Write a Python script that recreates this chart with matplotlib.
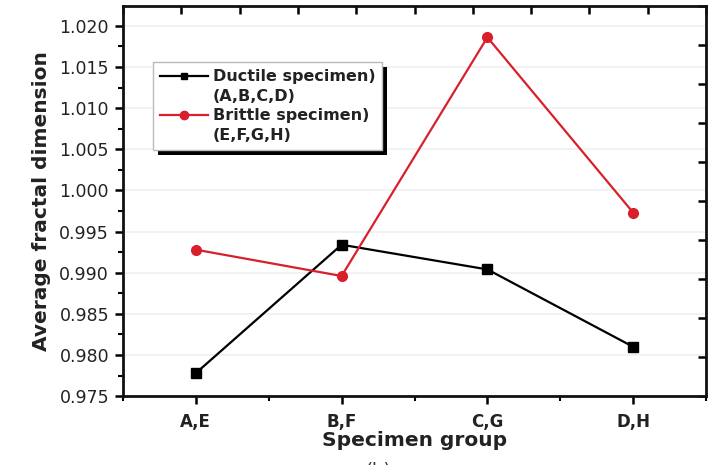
import matplotlib
matplotlib.use("Agg")
import matplotlib.pyplot as plt
from matplotlib.lines import Line2D
from matplotlib.patches import Rectangle
from matplotlib.ticker import MultipleLocator, FixedLocator, NullFormatter, FormatStrFormatter

# Data
groups = ["A,E", "B,F", "C,G", "D,H"]
ductile = [0.9778, 0.9934, 0.9904, 0.9810]
brittle = [0.9928, 0.9896, 1.0186, 0.9973]
ductile_label = ["Ductile specimen)", "(A,B,C,D)"]
brittle_label = ["Brittle specimen)", "(E,F,G,H)"]

plt.rcParams["font.family"] = ["DejaVu Sans"]

fig = plt.figure(figsize=(7.19, 4.65), dpi=100)
ax = fig.add_axes([0.171, 0.148, 0.811, 0.839])

x = list(range(1, len(groups) + 1))
red = "#d8202c"
ax.plot(x, ductile, color="black", lw=1.6, marker="s", ms=6.5, zorder=3)
ax.plot(x, brittle, color=red, lw=1.6, marker="o", ms=7, zorder=3)

ax.set_xlim(0.5, 4.5)
ax.set_ylim(0.975, 1.0224)
ax.set_xticks(x)
ax.set_xticklabels(groups, fontsize=12, fontweight="bold", color="#222222")
ax.xaxis.set_minor_locator(MultipleLocator(0.5))
ax.yaxis.set_major_locator(MultipleLocator(0.005))
ax.yaxis.set_minor_locator(MultipleLocator(0.0025))
ax.yaxis.set_major_formatter(FormatStrFormatter("%.3f"))
for lab in ax.get_yticklabels():
    lab.set_fontsize(12.5)
    lab.set_color("#222222")

ax.tick_params(axis="both", which="major", direction="out", length=6, width=1.8, pad=4)
ax.tick_params(axis="both", which="minor", direction="out", length=3.5, width=1.5)
ax.tick_params(axis="x", pad=6)
for s in ax.spines.values():
    s.set_linewidth(2.0)
    s.set_color("#111111")

ax.grid(axis="y", which="major", color="#f0f0f0", lw=1.2, zorder=0)

# Top and right frame ticks
top = ax.secondary_xaxis("top")
top.xaxis.set_major_locator(FixedLocator([0.5 + 0.4 * i for i in range(11)]))
top.xaxis.set_major_formatter(NullFormatter())
top.tick_params(direction="in", length=6, width=1.8)
top.spines["top"].set_visible(False)

right = ax.secondary_yaxis("right")
ylo, yhi = ax.get_ylim()
right.yaxis.set_major_locator(FixedLocator([ylo + (yhi - ylo) * i / 10 for i in range(11)]))
right.yaxis.set_major_formatter(NullFormatter())
right.tick_params(direction="in", length=6, width=1.8)
right.spines["right"].set_visible(False)

ax.set_ylabel("Average fractal dimension", fontsize=14.5, fontweight="bold", color="#222222", labelpad=6)
ax.set_xlabel("Specimen group", fontsize=14.5, fontweight="bold", color="#222222", labelpad=0)

# Legend
handles = [
    Line2D([], [], color="black", lw=1.6, marker="s", ms=5),
    Line2D([], [], color="none"),
    Line2D([], [], color=red, lw=1.6, marker="o", ms=6),
    Line2D([], [], color="none"),
]
labels = [ductile_label[0], ductile_label[1], brittle_label[0], brittle_label[1]]
leg = ax.legend(handles, labels, loc="upper left", bbox_to_anchor=(0.051, 0.856),
                borderaxespad=0, prop={"weight": "bold", "size": 11.5}, labelspacing=0.28,
                handlelength=3.0, handletextpad=0.3, borderpad=0.45,
                frameon=True, fancybox=False, framealpha=1, edgecolor="#bbbbbb")
leg.get_frame().set_linewidth(1.0)
leg.set_zorder(5)
for t in leg.get_texts():
    t.set_color("#222222")

# Drop shadow behind the legend box
fig.canvas.draw()
bb = leg.get_window_extent(fig.canvas.get_renderer())
off = 5
shadow = Rectangle((bb.x0 + off, bb.y0 - off), bb.width, bb.height,
                   transform=None, facecolor="black", edgecolor="none", zorder=4)
ax.add_artist(shadow)

fig.text(0.526, 0.006, "(b)", fontsize=13, ha="center", va="top", color="#333333")

fig.savefig("out.png", dpi=100)
